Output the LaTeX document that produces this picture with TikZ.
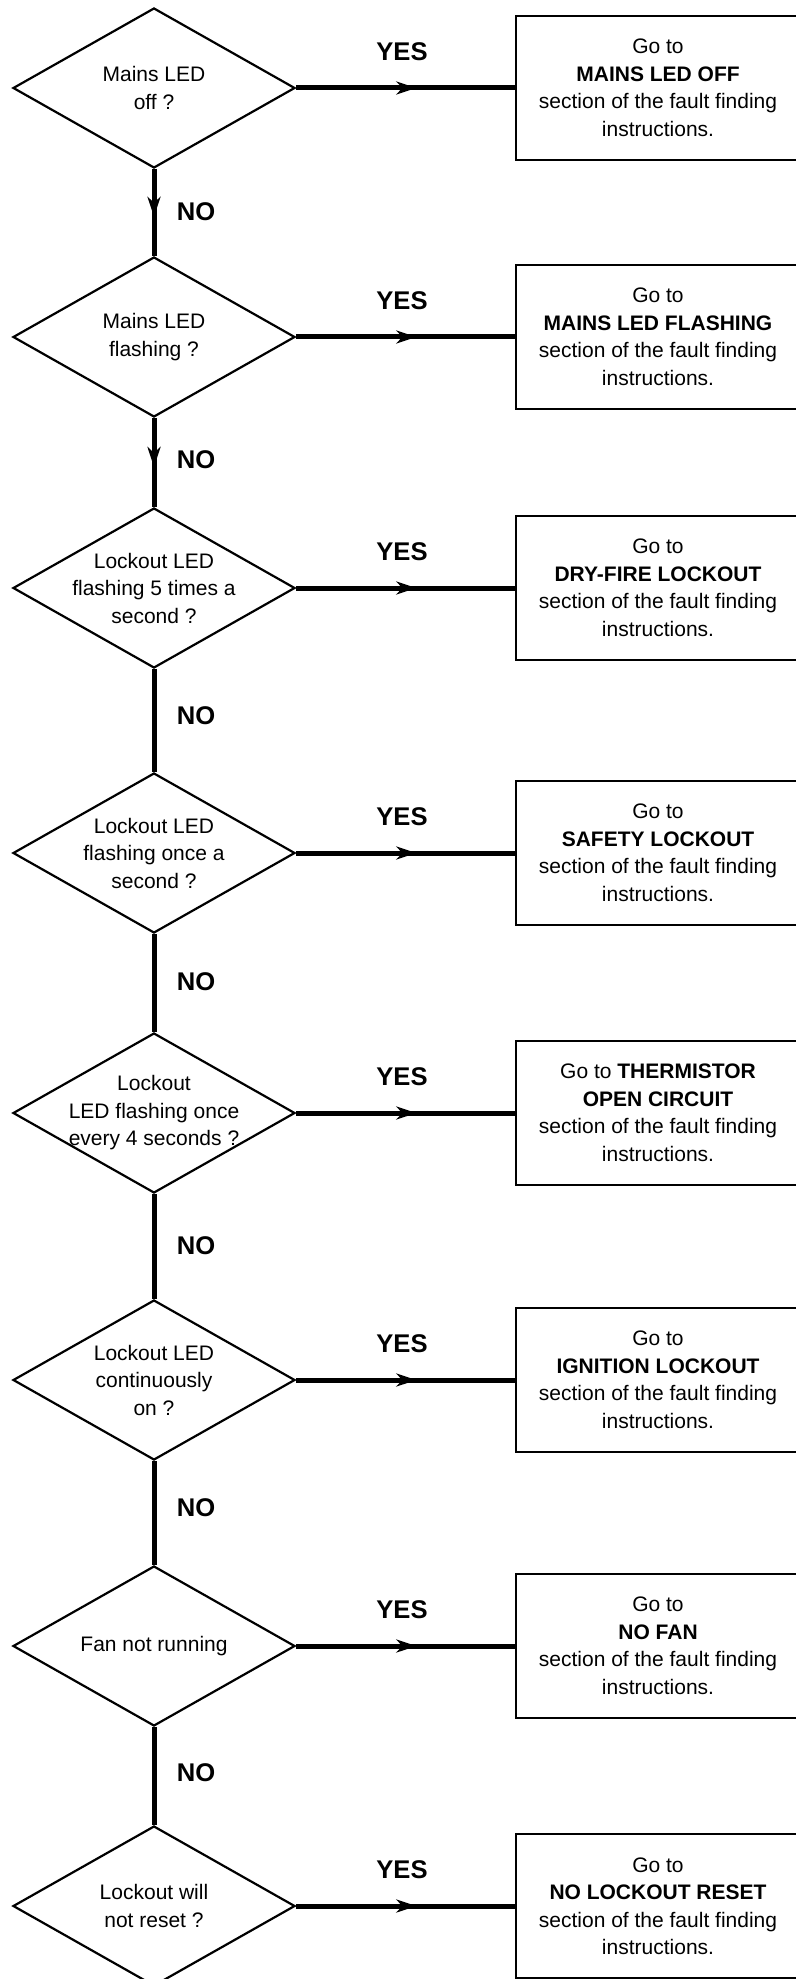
\documentclass[tikz,border=0pt]{standalone}
\usepackage{fontspec}
\setmainfont{Liberation Sans}
\usetikzlibrary{shapes.geometric, arrows.meta, decorations.markings}
\tikzstyle{question}=[diamond, draw, aspect=1.76, line width=1.1pt, minimum width=141pt, minimum height=80pt, inner sep=-4pt, align=center, font=\fontsize{10.5pt}{13.75pt}\selectfont]
\tikzstyle{target}=[rectangle, draw, line width=1.25pt, minimum width=142pt, minimum height=72pt, align=center, font=\fontsize{10.5pt}{13.75pt}\selectfont]
\tikzstyle{flow}=[line width=2.5pt]
\tikzstyle{midarrow}=[postaction={decorate}, decoration={markings, mark=at position 0.55 with {\arrow{Stealth[length=10pt, width=6.5pt, inset=3pt]}}}]
\tikzstyle{answer}=[font=\fontsize{12.8pt}{15pt}\selectfont\bfseries]

\begin{document}
\begin{tikzpicture}[x=0.5pt, y=-0.5pt]
				\useasboundingbox (0,0) rectangle (796,1979);
				\clip (0,0) rectangle (796,1979);

				\node[question] (q1) at (154,88) {Mains LED\\off ?};
				\node[question] (q2) at (154,337) {Mains LED\\flashing ?};
				\node[question] (q3) at (154,588) {Lockout LED\\flashing 5 times a\\second ?};
				\node[question] (q4) at (154,853) {Lockout LED\\flashing once a\\second ?};
				\node[question] (q5) at (154,1113) {Lockout\\LED flashing once\\every 4 seconds ?};
				\node[question] (q6) at (154,1380) {Lockout LED\\continuously\\on ?};
				\node[question] (q7) at (154,1646) {Fan not running};
				\node[question] (q8) at (154,1906) {Lockout will\\not reset ?};

				\node[target] (t1) at (658,88) {Go to\\\textbf{MAINS LED OFF}\\section of the fault finding\\instructions.};
				\node[target] (t2) at (658,337) {Go to\\\textbf{MAINS LED FLASHING}\\section of the fault finding\\instructions.};
				\node[target] (t3) at (658,588) {Go to\\\textbf{DRY-FIRE LOCKOUT}\\section of the fault finding\\instructions.};
				\node[target] (t4) at (658,853) {Go to\\\textbf{SAFETY LOCKOUT}\\section of the fault finding\\instructions.};
				\node[target] (t5) at (658,1113) {Go to \textbf{THERMISTOR}\\\textbf{OPEN CIRCUIT}\\section of the fault finding\\instructions.};
				\node[target] (t6) at (658,1380) {Go to\\\textbf{IGNITION LOCKOUT}\\section of the fault finding\\instructions.};
				\node[target] (t7) at (658,1646) {Go to\\\textbf{NO FAN}\\section of the fault finding\\instructions.};
				\node[target] (t8) at (658,1906) {Go to\\\textbf{NO LOCKOUT RESET}\\section of the fault finding\\instructions.};

				\draw[flow, midarrow] (q1.east) -- (t1.west);
				\draw[flow, midarrow] (q2.east) -- (t2.west);
				\draw[flow, midarrow] (q3.east) -- (t3.west);
				\draw[flow, midarrow] (q4.east) -- (t4.west);
				\draw[flow, midarrow] (q5.east) -- (t5.west);
				\draw[flow, midarrow] (q6.east) -- (t6.west);
				\draw[flow, midarrow] (q7.east) -- (t7.west);
				\draw[flow, midarrow] (q8.east) -- (t8.west);

				\draw[flow, midarrow] (q1.south) -- (q2.north);
				\draw[flow, midarrow] (q2.south) -- (q3.north);
				\draw[flow] (q3.south) -- (q4.north);
				\draw[flow] (q4.south) -- (q5.north);
				\draw[flow] (q5.south) -- (q6.north);
				\draw[flow] (q6.south) -- (q7.north);
				\draw[flow] (q7.south) -- (q8.north);

				\node[answer] (yes1) at (402,52) {YES};
				\node[answer] (yes2) at (402,301) {YES};
				\node[answer] (yes3) at (402,552) {YES};
				\node[answer] (yes4) at (402,817) {YES};
				\node[answer] (yes5) at (402,1077) {YES};
				\node[answer] (yes6) at (402,1344) {YES};
				\node[answer] (yes7) at (402,1610) {YES};
				\node[answer] (yes8) at (402,1870) {YES};

				\node[answer] (no1) at (196,212) {NO};
				\node[answer] (no2) at (196,460) {NO};
				\node[answer] (no3) at (196,716) {NO};
				\node[answer] (no4) at (196,982) {NO};
				\node[answer] (no5) at (196,1246) {NO};
				\node[answer] (no6) at (196,1508) {NO};
				\node[answer] (no7) at (196,1773) {NO};
			\end{tikzpicture}
\end{document}
